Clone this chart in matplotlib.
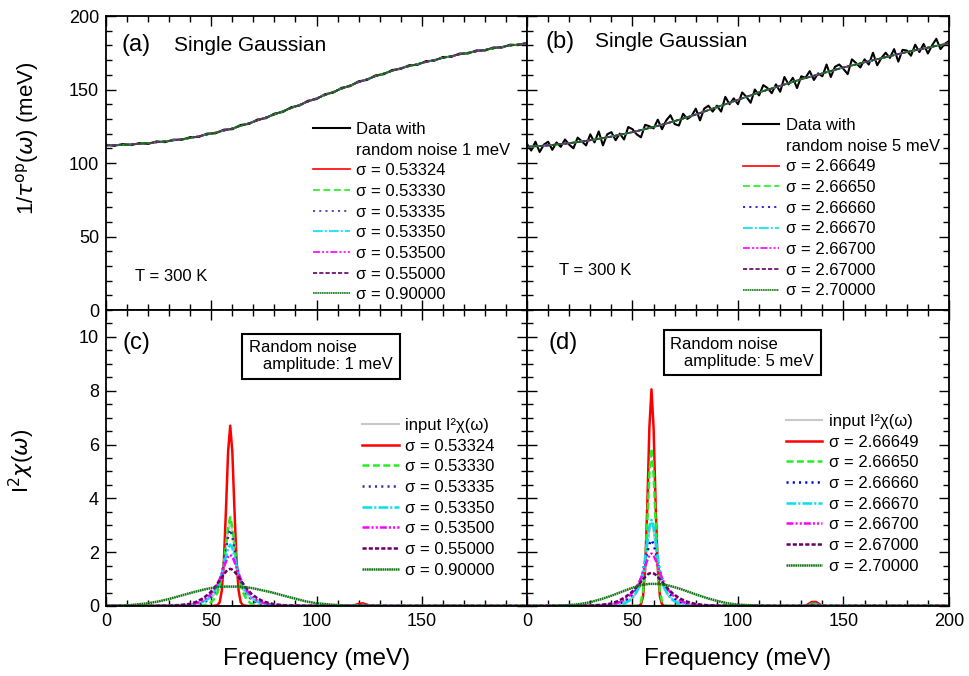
import numpy as np
import matplotlib.pyplot as plt
from matplotlib.ticker import MultipleLocator
from matplotlib.lines import Line2D

plt.rcParams['font.family'] = ['Liberation Sans', 'DejaVu Sans']
plt.rcParams['mathtext.fontset'] = 'dejavusans'
plt.rcParams['lines.scale_dashes'] = False

# ---- top panels: scattering rate 1/tau(omega) ----
freq_fit = np.arange(0, 201, 10)
fit_a = [112, 112.5, 113.5, 115, 117, 120, 123.5, 128, 133, 138.5, 144,
         149.5, 155, 160, 164.5, 168, 171.5, 174.5, 177, 179.5, 181.5]
fit_b = [111, 112, 113.5, 115.5, 118, 121, 124.5, 128.5, 133, 138, 143,
         148, 152.5, 157, 161, 165, 168.5, 172, 175.5, 178.5, 181.5]

freq_data_a = np.arange(0, 201, 4)
data_a = [112.4, 111.7, 112.9, 112.2, 113.6, 113.0, 114.7, 114.2, 115.9, 115.8,
          117.6, 117.7, 120.0, 120.2, 122.7, 123.0, 125.9, 126.6, 129.6, 130.5,
          133.6, 134.7, 138.0, 139.1, 142.4, 143.5, 146.8, 147.9, 151.2, 152.3,
          155.6, 156.5, 159.6, 160.4, 163.3, 164.0, 166.5, 166.8, 169.3, 169.6,
          172.1, 172.2, 174.5, 174.5, 176.6, 176.5, 178.6, 178.5, 180.5, 180.2,
          181.9]

freq_data_b = np.arange(0, 201, 2)
data_b = [113, 108.5, 114.5, 107.5, 112.5, 114.5, 109, 114, 111, 116,
          112.5, 110, 117.3, 114.7, 112, 119.5, 114, 121.5, 112, 119.5,
          121, 115.5, 120, 116, 124.5, 123, 119.5, 117.5, 126, 125,
          123.5, 129.5, 123, 129, 132.5, 126.5, 125.5, 133.5, 130, 132,
          137, 129, 137, 139, 135, 139, 135, 145, 140, 144,
          140, 148, 145, 141, 150, 146, 153, 151, 147.5, 153.5,
          148.5, 158.5, 153.5, 158, 151, 159, 158, 162.5, 156.5, 161,
          159, 167, 158.5, 165.5, 167, 164, 160.5, 170.5, 168, 165,
          170.5, 167, 175, 166.5, 171.5, 175, 171.5, 177.5, 169, 177,
          176.5, 173, 180.5, 175.5, 181, 174.5, 180, 184.5, 177.5, 181,
          183]

sigma_a = ['0.53324', '0.53330', '0.53335', '0.53350', '0.53500', '0.55000', '0.90000']
sigma_b = ['2.66649', '2.66650', '2.66660', '2.66670', '2.66700', '2.67000', '2.70000']

# ---- bottom panels: I^2 chi(omega) ----
freq_chi = [0, 10, 20, 25, 30, 35, 40, 43, 46, 49, 51,
            53, 54, 55, 56, 57, 58, 59, 60, 61, 62, 63, 64, 65,
            67, 69, 72, 75, 80, 85, 90, 95, 100, 110, 117,
            120, 122, 125,
            132, 135, 137, 140, 150, 175, 200]

input_chi = [0.008, 0.012, 0.018, 0.024, 0.033, 0.048, 0.075, 0.105, 0.157, 0.26, 0.38,
             0.62, 0.82, 1.12, 1.55, 2.15, 2.79, 3.1, 2.79, 2.15, 1.55, 1.12, 0.82, 0.62,
             0.38, 0.26, 0.157, 0.105, 0.062, 0.041, 0.029, 0.021, 0.017, 0.011, 0.009,
             0.008, 0.008, 0.007,
             0.006, 0.005, 0.005, 0.005, 0.004, 0.003, 0.002]

chi_c1 = [0, 0, 0, 0, 0, 0, 0, 0, 0, 0, 0,
          0.03, 0.14, 0.57, 1.67, 3.61, 5.74, 6.7, 5.74, 3.61, 1.67, 0.57, 0.14, 0.03,
          0, 0, 0, 0, 0, 0, 0, 0, 0, 0, 0,
          0.08, 0.1, 0.02,
          0, 0, 0, 0, 0, 0, 0]
chi_c2 = [0, 0, 0, 0, 0, 0, 0, 0, 0.02, 0.08, 0.22,
          0.5, 0.75, 1.1, 1.6, 2.3, 2.95, 3.3, 2.95, 2.3, 1.6, 1.1, 0.75, 0.5,
          0.22, 0.08, 0.02, 0, 0, 0, 0, 0, 0, 0, 0,
          0.03, 0.04, 0.01,
          0, 0, 0, 0, 0, 0, 0]
chi_c3 = [0, 0, 0, 0, 0, 0, 0.01, 0.04, 0.1, 0.25, 0.42,
          0.7, 0.9, 1.2, 1.6, 2.1, 2.6, 2.84, 2.6, 2.1, 1.6, 1.2, 0.9, 0.7,
          0.42, 0.25, 0.1, 0.04, 0.01, 0, 0, 0, 0, 0, 0,
          0.02, 0.03, 0.01,
          0, 0, 0, 0, 0, 0, 0]
chi_c4 = [0, 0, 0, 0, 0, 0.005, 0.02, 0.07, 0.15, 0.3, 0.48,
          0.75, 0.95, 1.2, 1.5, 1.85, 2.15, 2.28, 2.15, 1.85, 1.5, 1.2, 0.95, 0.75,
          0.48, 0.3, 0.15, 0.07, 0.02, 0.005, 0, 0, 0, 0, 0,
          0.02, 0.02, 0.01,
          0, 0, 0, 0, 0, 0, 0]
chi_c5 = [0, 0, 0, 0, 0.005, 0.01, 0.04, 0.11, 0.2, 0.38, 0.57,
          0.83, 1.0, 1.2, 1.43, 1.65, 1.83, 1.9, 1.83, 1.65, 1.43, 1.2, 1.0, 0.83,
          0.57, 0.38, 0.2, 0.11, 0.03, 0.01, 0.005, 0.003, 0.002, 0, 0,
          0.01, 0.02, 0.01,
          0, 0, 0, 0, 0, 0, 0]
chi_c6 = [0, 0, 0, 0.003, 0.01, 0.03, 0.08, 0.16, 0.28, 0.46, 0.63,
          0.84, 0.95, 1.07, 1.18, 1.28, 1.35, 1.38, 1.35, 1.28, 1.18, 1.07, 0.95, 0.84,
          0.63, 0.46, 0.28, 0.16, 0.06, 0.02, 0.01, 0.005, 0.003, 0, 0,
          0.01, 0.01, 0.005,
          0, 0, 0, 0, 0, 0, 0]
chi_c7 = [0, 0.02, 0.1, 0.17, 0.26, 0.37, 0.48, 0.54, 0.6, 0.65, 0.68,
          0.7, 0.71, 0.715, 0.72, 0.72, 0.72, 0.72, 0.72, 0.72, 0.72, 0.72, 0.715, 0.71,
          0.69, 0.67, 0.62, 0.57, 0.48, 0.37, 0.27, 0.17, 0.1, 0.03, 0.01,
          0.005, 0.005, 0,
          0, 0, 0, 0, 0, 0, 0]

chi_d1 = [0, 0, 0, 0, 0, 0, 0, 0, 0, 0, 0,
          0, 0.06, 0.35, 1.39, 3.68, 6.62, 8.05, 6.62, 3.68, 1.39, 0.35, 0.06, 0,
          0, 0, 0, 0, 0, 0, 0, 0, 0, 0, 0,
          0, 0, 0,
          0, 0.15, 0.15, 0, 0, 0, 0]
chi_d2 = [0, 0, 0, 0, 0, 0, 0, 0, 0, 0, 0,
          0.03, 0.15, 0.55, 1.5, 3.1, 4.9, 5.85, 4.9, 3.1, 1.5, 0.55, 0.15, 0.03,
          0, 0, 0, 0, 0, 0, 0, 0, 0, 0, 0,
          0, 0, 0,
          0, 0.08, 0.08, 0, 0, 0, 0]
chi_d3 = [0, 0, 0, 0, 0, 0.01, 0.03, 0.08, 0.16, 0.32, 0.5,
          0.8, 1.02, 1.3, 1.65, 2.0, 2.3, 2.45, 2.3, 2.0, 1.65, 1.3, 1.02, 0.8,
          0.5, 0.32, 0.16, 0.08, 0.02, 0.01, 0, 0, 0, 0, 0,
          0, 0, 0,
          0, 0.04, 0.04, 0, 0, 0, 0]
chi_d4 = [0, 0, 0, 0, 0, 0, 0, 0.02, 0.08, 0.22, 0.4,
          0.7, 0.95, 1.3, 1.8, 2.4, 2.95, 3.2, 2.95, 2.4, 1.8, 1.3, 0.95, 0.7,
          0.4, 0.22, 0.08, 0.02, 0, 0, 0, 0, 0, 0, 0,
          0, 0, 0,
          0, 0.06, 0.06, 0.01, 0, 0, 0]
chi_d5 = [0, 0, 0, 0, 0.005, 0.015, 0.05, 0.12, 0.22, 0.41, 0.6,
          0.86, 1.03, 1.24, 1.47, 1.7, 1.88, 1.95, 1.88, 1.7, 1.47, 1.24, 1.03, 0.86,
          0.6, 0.41, 0.22, 0.12, 0.04, 0.015, 0.005, 0, 0, 0, 0,
          0, 0, 0,
          0, 0.03, 0.03, 0, 0, 0, 0]
chi_d6 = [0, 0, 0, 0.005, 0.015, 0.04, 0.09, 0.18, 0.3, 0.47, 0.62,
          0.8, 0.9, 0.99, 1.08, 1.16, 1.21, 1.23, 1.21, 1.16, 1.08, 0.99, 0.9, 0.8,
          0.62, 0.47, 0.3, 0.18, 0.07, 0.03, 0.01, 0.005, 0, 0, 0,
          0, 0, 0,
          0, 0.02, 0.02, 0, 0, 0, 0]
chi_d7 = [0, 0, 0.03, 0.07, 0.14, 0.25, 0.38, 0.47, 0.56, 0.65, 0.7,
          0.75, 0.77, 0.79, 0.8, 0.81, 0.82, 0.82, 0.82, 0.82, 0.815, 0.81, 0.8, 0.79,
          0.76, 0.72, 0.65, 0.57, 0.43, 0.3, 0.19, 0.1, 0.05, 0.01, 0,
          0, 0, 0,
          0, 0.01, 0.01, 0, 0, 0, 0]

colors_c = ['#ff0000', '#22ee22', '#333399', '#00e0f0', '#ff00ff', '#660066', '#117711']
colors_d = ['#ff0000', '#22ee22', '#0000dd', '#00e0f0', '#ff00ff', '#660066', '#117711']
styles = ['-', (0, (5, 2.5)), (0, (1.5, 3)), (0, (7, 1.5, 1.5, 1.5)),
          (0, (5, 1.5, 1.5, 1.5, 1.5, 1.5)), (0, (3, 1.5)), (0, (1.2, 0.4))]

fig = plt.figure(figsize=(9.7, 6.76), dpi=100)
ax_a = fig.add_axes([0.1093, 0.5414, 0.434, 0.4349])
ax_b = fig.add_axes([0.5433, 0.5414, 0.435, 0.4349])
ax_c = fig.add_axes([0.1093, 0.1036, 0.434, 0.4379])
ax_d = fig.add_axes([0.5433, 0.1036, 0.435, 0.4379])

for ax in (ax_a, ax_b, ax_c, ax_d):
    ax.set_xlim(0, 200)
    ax.xaxis.set_major_locator(MultipleLocator(50))
    ax.xaxis.set_minor_locator(MultipleLocator(10))
    ax.tick_params(which='both', direction='in', top=True, right=True, labelsize=13, pad=5)
    ax.tick_params(which='major', length=7, width=1)
    ax.tick_params(which='minor', length=4, width=1)
    for s in ax.spines.values():
        s.set_linewidth(1.3)

for ax in (ax_a, ax_b):
    ax.set_ylim(0, 200)
    ax.yaxis.set_major_locator(MultipleLocator(50))
    ax.yaxis.set_minor_locator(MultipleLocator(10))
    ax.tick_params(labelbottom=False)
for ax in (ax_c, ax_d):
    ax.set_ylim(0, 11)
    ax.yaxis.set_major_locator(MultipleLocator(2))
    ax.yaxis.set_minor_locator(MultipleLocator(0.5))
    ax.set_xlabel('Frequency (meV)', fontsize=17.5, labelpad=13)
for ax in (ax_b, ax_d):
    ax.tick_params(labelleft=False)

ax_c.set_xticks([0, 50, 100, 150, 200])
ax_c.set_xticklabels(['0', '50', '100', '150', ''])

ax_a.set_ylabel(r'1/$\tau^{\mathrm{op}}$($\omega$) (meV)', fontsize=16)
ax_a.yaxis.set_label_coords(-0.155, 0.585)
ax_c.set_ylabel(r'I$^2$$\chi$($\omega$)', fontsize=16)
ax_c.yaxis.set_label_coords(-0.163, 0.49)

legend_kw = dict(loc='upper left', frameon=False, fontsize=12, handlelength=2.2,
                 handletextpad=0.4, labelspacing=0.34, borderpad=0, borderaxespad=0)

# top panels
for ax, fy, dx, dy, sig, noise, colors, anchor in (
        (ax_a, fit_a, freq_data_a, data_a, sigma_a, 1, colors_c, (0.492, 0.64)),
        (ax_b, fit_b, freq_data_b, data_b, sigma_b, 5, colors_d, (0.511, 0.653))):
    hd, = ax.plot(dx, dy, color='black', lw=1.5)
    handles = [hd, Line2D([], [], color='none')]
    labels = ['Data with', 'random noise %d meV' % noise]
    for i in range(7):
        h, = ax.plot(freq_fit, fy, color=colors[i], ls=styles[i], lw=1.2)
        handles.append(h)
        labels.append('σ = ' + sig[i])
    ax.legend(handles, labels, bbox_to_anchor=anchor, **legend_kw)

ax_a.text(0.037, 0.90, '(a)', transform=ax_a.transAxes, fontsize=17, va='center')
ax_a.text(0.1615, 0.90, 'Single Gaussian', transform=ax_a.transAxes, fontsize=15, va='center')
ax_a.text(0.069, 0.113, 'T = 300 K', transform=ax_a.transAxes, fontsize=12, va='center')
ax_b.text(0.045, 0.913, '(b)', transform=ax_b.transAxes, fontsize=17, va='center')
ax_b.text(0.1615, 0.913, 'Single Gaussian', transform=ax_b.transAxes, fontsize=15, va='center')
ax_b.text(0.076, 0.133, 'T = 300 K', transform=ax_b.transAxes, fontsize=12, va='center')

# bottom panels
chis_c = [chi_c1, chi_c2, chi_c3, chi_c4, chi_c5, chi_c6, chi_c7]
chis_d = [chi_d1, chi_d2, chi_d3, chi_d4, chi_d5, chi_d6, chi_d7]
for ax, chis, sig, colors, anchor in ((ax_c, chis_c, sigma_a, colors_c, (0.608, 0.635)),
                                       (ax_d, chis_d, sigma_b, colors_d, (0.613, 0.649))):
    hi, = ax.plot(freq_chi, input_chi, color='#c8c8c8', lw=1.5)
    handles = [hi]
    labels = ['input I²χ(ω)']
    for i in range(7):
        h, = ax.plot(freq_chi, chis[i], color=colors[i], ls=styles[i], lw=1.8)
        handles.append(h)
        labels.append('σ = ' + sig[i])
    ax.legend(handles, labels, bbox_to_anchor=anchor, **legend_kw)

box = dict(boxstyle='square,pad=0.4', fc='white', ec='black', lw=1.5)
ax_c.text(0.04, 0.889, '(c)', transform=ax_c.transAxes, fontsize=17, va='center')
ax_c.text(0.34, 0.844, 'Random noise\n   amplitude: 1 meV', transform=ax_c.transAxes,
          fontsize=12, va='center', ha='left', bbox=box, linespacing=1.15)
ax_d.text(0.05, 0.89, '(d)', transform=ax_d.transAxes, fontsize=17, va='center')
ax_d.text(0.34, 0.855, 'Random noise\n   amplitude: 5 meV', transform=ax_d.transAxes,
          fontsize=12, va='center', ha='left', bbox=box, linespacing=1.15)

fig.savefig('out.png', dpi=100)
